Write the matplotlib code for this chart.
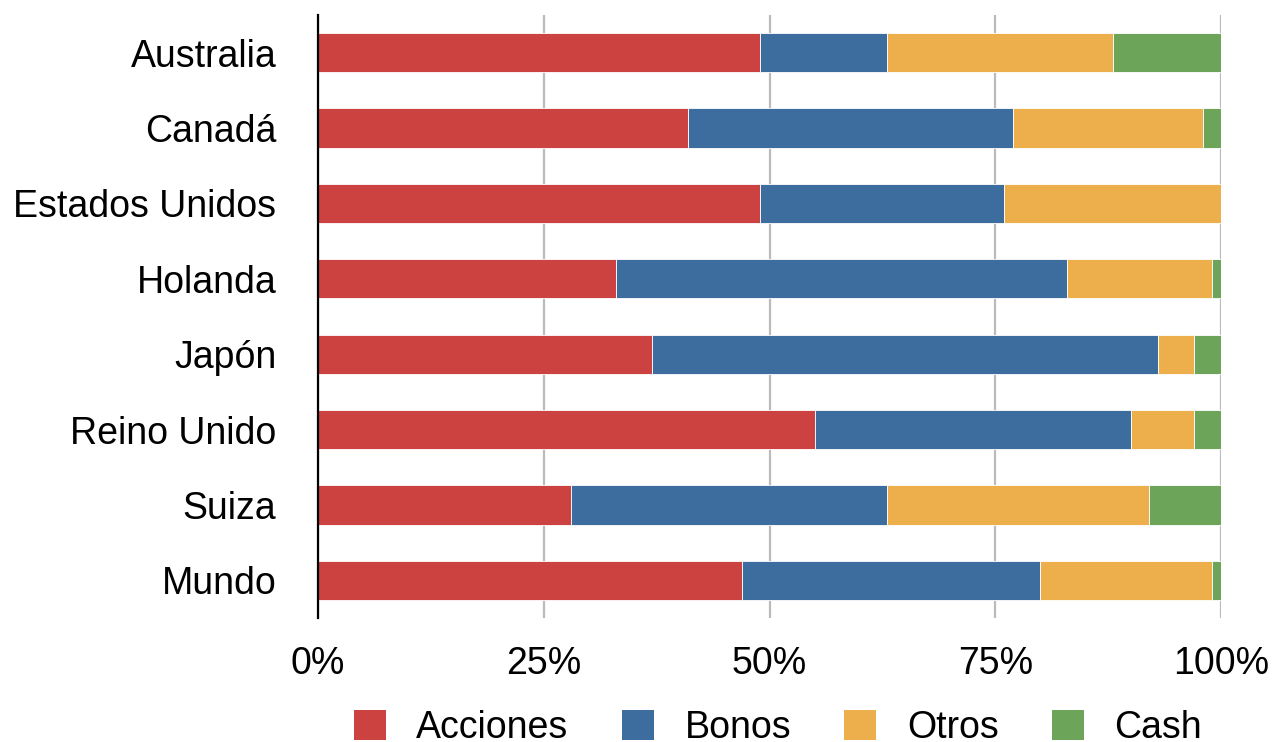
import numpy as np
import matplotlib.pyplot as plt
from matplotlib.patches import Patch

plt.rcParams['font.family'] = ['Liberation Sans', 'DejaVu Sans']

# data (percent of portfolio)
paises = ['Australia', 'Canadá', 'Estados Unidos', 'Holanda', 'Japón',
          'Reino Unido', 'Suiza', 'Mundo']
acciones = [49, 41, 49, 33, 37, 55, 28, 47]
bonos = [14, 36, 27, 50, 56, 35, 35, 33]
otros = [25, 21, 24, 16, 4, 7, 29, 19]
cash = [12, 2, 0, 1, 3, 3, 8, 1]

series = [('Acciones', acciones, '#CC4240'),
          ('Bonos', bonos, '#3D6C9E'),
          ('Otros', otros, '#EDAE4C'),
          ('Cash', cash, '#6CA45A')]

fig = plt.figure(figsize=(12.72, 7.42), dpi=100)
ax = fig.add_axes([318 / 1272, 1 - 618 / 742, 903 / 1272, 603 / 742])

y = np.arange(len(paises))
left = np.zeros(len(paises))
for name, vals, color in series:
    vals = np.array(vals, dtype=float)
    ax.barh(y, vals, left=left, height=0.52, color=color,
            edgecolor='white', linewidth=0.6, zorder=2, label=name)
    left += vals

ax.set_xlim(0, 100)
ax.set_ylim(len(paises) - 0.5, -0.5)
ax.set_yticks(y)
ax.set_yticklabels(paises)
ax.set_xticks([0, 25, 50, 75, 100])
ax.set_xticklabels(['0%', '25%', '50%', '75%', '100%'])
ax.tick_params(axis='both', length=0, labelsize=27)
ax.tick_params(axis='x', pad=20)
ax.tick_params(axis='y', pad=30)

ax.grid(axis='x', color='#BBBBBB', linewidth=1.6, zorder=0)
for s in ['top', 'right', 'bottom']:
    ax.spines[s].set_visible(False)
ax.spines['left'].set_linewidth(1.6)
ax.spines['left'].set_zorder(3)

# legend sits at the bottom edge, partly cut off like the original
handles = [Patch(facecolor=c, edgecolor='none', label=n) for n, _, c in series]
fig.legend(handles=handles, loc='center', ncol=4, frameon=False,
           bbox_to_anchor=(778 / 1272, 1 - 728 / 742), fontsize=27,
           handlelength=0.85, handleheight=0.85, handletextpad=0.82,
           columnspacing=1.42, borderaxespad=0)

fig.savefig('out.png', dpi=100)
